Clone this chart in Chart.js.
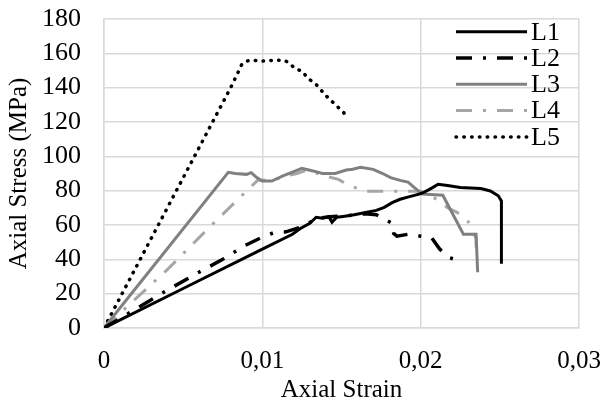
<!DOCTYPE html>
<html lang="en">
<head>
    <meta charset="UTF-8">
    <script src="https://cdn.jsdelivr.net/npm/chart.js"></script>
    <style>
        body {
            margin: 0;
            padding: 0;
            background: #ffffff;
        }
        #wrap {
            width: 602px;
            height: 412px;
            position: relative;
        }
    </style>
</head>
<body>
    <div id="wrap">
        <canvas id="stressStrain"></canvas>
    </div>
    <script>
        // strain values (x) and stress values in MPa (y) for each specimen
        const l1Strain = [0, 0.0050, 0.0100, 0.0119, 0.0124, 0.0130, 0.0134, 0.0138, 0.0142, 0.0144, 0.0147, 0.0151, 0.0158, 0.0166, 0.0172, 0.0177, 0.0182, 0.0187, 0.0193, 0.0199, 0.0202, 0.0207, 0.0211, 0.0217, 0.0225, 0.0238, 0.0244, 0.0249, 0.0251, 0.0251];
        const l1Stress = [0, 23, 46, 54.6, 58, 61, 64.5, 64, 65, 61.6, 64.5, 65, 66, 67.4, 68.5, 70.3, 73, 75, 76.5, 78, 79, 81.5, 83.7, 83, 81.8, 81.2, 79.8, 77, 74, 37.5];

        const l2Strain = [0, 0.0039, 0.0058, 0.0075, 0.0089, 0.0100, 0.0108, 0.0115, 0.0125, 0.0135, 0.0145, 0.0155, 0.0165, 0.0172, 0.0178, 0.0182, 0.0183, 0.0185, 0.0192, 0.0200, 0.0207, 0.0212, 0.0218, 0.0227];
        const l2Stress = [0, 21.5, 31.5, 40, 48, 53, 55.8, 56, 59, 64, 65, 65.5, 66.5, 66, 63, 61, 55, 53.5, 54.6, 53.5, 52.5, 46, 41, 38.5];

        const l3Strain = [0, 0.00785, 0.0083, 0.0090, 0.0093, 0.0096, 0.0100, 0.0106, 0.0113, 0.0121, 0.0125, 0.0132, 0.0138, 0.0146, 0.0153, 0.0157, 0.0162, 0.0170, 0.0176, 0.0181, 0.0187, 0.0192, 0.0197, 0.0201, 0.0214, 0.0227, 0.0235, 0.0236];
        const l3Stress = [0, 90.7, 90, 89.5, 90.5, 88, 85.6, 85.6, 88.6, 91.5, 93, 91.5, 90, 90, 92, 92.5, 93.6, 92.4, 90, 87.6, 86, 85, 81, 78, 77.3, 54.6, 54.6, 32.5];

        const l4Strain = [0, 0.0015, 0.0040, 0.0068, 0.0097, 0.0103, 0.0110, 0.0117, 0.0122, 0.0128, 0.0135, 0.0142, 0.0148, 0.0153, 0.0158, 0.0166, 0.0185, 0.0200, 0.0206, 0.0211, 0.0217, 0.0223, 0.0230, 0.0235, 0.0235];
        const l4Stress = [0, 12.8, 34, 60, 86, 86, 87, 89, 90, 92, 90, 88, 86.6, 84, 82, 79.6, 79.6, 79.6, 77, 74.6, 70, 67.4, 62, 52, 47];

        const l5Strain = [0, 0.0040, 0.0080, 0.0085, 0.0087, 0.0090, 0.0093, 0.0100, 0.0108, 0.0113, 0.0116, 0.0121, 0.0125, 0.0129, 0.01335, 0.0140, 0.0144, 0.01515, 0.0152];
        const l5Stress = [0, 70, 140, 149.6, 153.5, 155.4, 156, 155.5, 156, 156, 155, 151, 149.6, 145.3, 142.4, 135.5, 132, 125.4, 124];

        const seriesNames = ['L1', 'L2', 'L3', 'L4', 'L5'];
        const xTicks = [0, 0.01, 0.02, 0.03];
        const yTicks = [0, 20, 40, 60, 80, 100, 120, 140, 160, 180];

        function toPoints(xs, ys) {
            return xs.map((x, i) => ({ x: x, y: ys[i] }));
        }

        const FONT = "'Liberation Serif', 'Times New Roman', serif";
        Chart.defaults.font.family = FONT;
        Chart.defaults.font.size = 25;
        Chart.defaults.color = '#000000';

        // legend drawn inside the plot, top right, like the original
        const insideLegend = {
            id: 'insideLegend',
            afterDraw(chart) {
                const ctx = chart.ctx;
                const area = chart.chartArea;
                ctx.save();
                chart.data.datasets.forEach((ds, i) => {
                    const y = area.top + 12.7 + i * 26.3;
                    ctx.beginPath();
                    ctx.strokeStyle = ds.borderColor;
                    ctx.lineWidth = ds.borderWidth;
                    ctx.lineCap = ds.borderCapStyle || 'butt';
                    ctx.setLineDash(ds.borderDash || []);
                    ctx.moveTo(area.right - 123, y);
                    ctx.lineTo(area.right - 52, y);
                    ctx.stroke();
                    ctx.setLineDash([]);
                    ctx.fillStyle = '#000000';
                    ctx.font = '26px ' + FONT;
                    ctx.textAlign = 'left';
                    ctx.textBaseline = 'middle';
                    ctx.fillText(ds.label, area.right - 48, y + 1);
                });
                ctx.restore();
            }
        };

        // keep the plot box where the original has it
        function noEdgePadding(scale) {
            scale.paddingTop = 0;
            scale.paddingBottom = 0;
            scale.paddingLeft = 0;
            scale.paddingRight = 0;
        }

        const ctx = document.getElementById('stressStrain').getContext('2d');
        const stressChart = new Chart(ctx, {
            type: 'scatter',
            data: {
                datasets: [
                    {
                        label: seriesNames[0],
                        data: toPoints(l1Strain, l1Stress),
                        borderColor: '#000000',
                        borderWidth: 3
                    },
                    {
                        label: seriesNames[1],
                        data: toPoints(l2Strain, l2Stress),
                        borderColor: '#000000',
                        borderWidth: 3.5,
                        borderDash: [16, 11, 3, 11]
                    },
                    {
                        label: seriesNames[2],
                        data: toPoints(l3Strain, l3Stress),
                        borderColor: '#808080',
                        borderWidth: 3
                    },
                    {
                        label: seriesNames[3],
                        data: toPoints(l4Strain, l4Stress),
                        borderColor: '#a6a6a6',
                        borderWidth: 3,
                        borderDash: [16, 11, 3, 11]
                    },
                    {
                        label: seriesNames[4],
                        data: toPoints(l5Strain, l5Stress),
                        borderColor: '#000000',
                        borderWidth: 3.5,
                        borderDash: [0.5, 7.3],
                        borderCapStyle: 'round'
                    }
                ]
            },
            options: {
                responsive: true,
                maintainAspectRatio: false,
                animation: false,
                showLine: true,
                elements: {
                    point: { radius: 0, hoverRadius: 0 },
                    line: { tension: 0, fill: false }
                },
                layout: {
                    padding: { top: 19, right: 23, bottom: 0, left: 0 }
                },
                plugins: {
                    legend: { display: false },
                    tooltip: { enabled: false }
                },
                scales: {
                    x: {
                        type: 'linear',
                        min: 0,
                        max: 0.03,
                        afterBuildTicks: (scale) => {
                            scale.ticks = xTicks.map(v => ({ value: v }));
                        },
                        afterFit: (scale) => {
                            scale.height = 84;
                            noEdgePadding(scale);
                        },
                        ticks: {
                            autoSkip: false,
                            maxRotation: 0,
                            padding: 18,
                            font: { size: 25 },
                            callback: (v) => v === 0 ? '0' : String(v).replace('.', ',')
                        },
                        grid: {
                            color: '#d9d9d9',
                            lineWidth: 1.5,
                            drawTicks: false
                        },
                        border: { color: '#d9d9d9', width: 1.5 },
                        title: {
                            display: true,
                            text: 'Axial Strain',
                            padding: { top: 0, bottom: 7 }
                        }
                    },
                    y: {
                        min: 0,
                        max: 180,
                        afterBuildTicks: (scale) => {
                            scale.ticks = yTicks.map(v => ({ value: v }));
                        },
                        afterFit: (scale) => {
                            scale.width = 104;
                            noEdgePadding(scale);
                        },
                        ticks: {
                            autoSkip: false,
                            padding: 23,
                            font: { size: 26 }
                        },
                        grid: {
                            color: '#d9d9d9',
                            lineWidth: 1.5,
                            drawTicks: false
                        },
                        border: { color: '#d9d9d9', width: 1.5 },
                        title: {
                            display: true,
                            text: 'Axial Stress (MPa)',
                            padding: { top: 4, bottom: 0 }
                        }
                    }
                }
            },
            plugins: [insideLegend]
        });
    </script>
</body>
</html>
